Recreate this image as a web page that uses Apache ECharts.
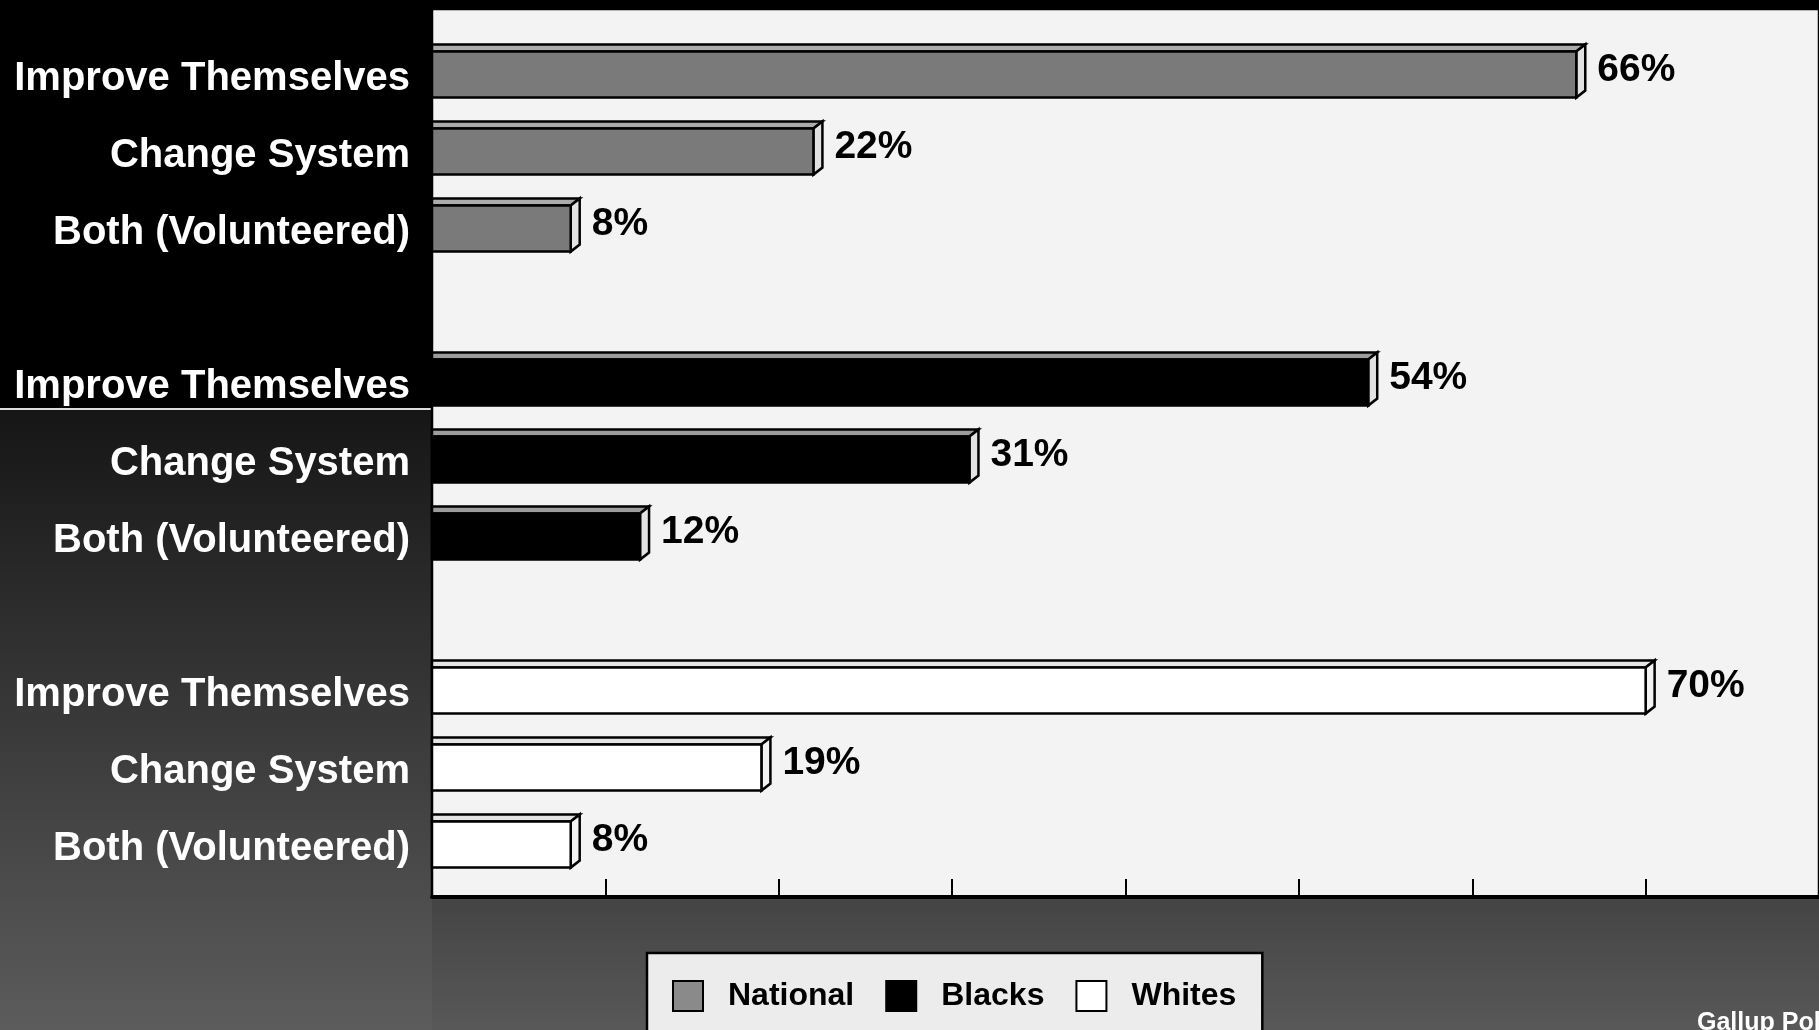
<!DOCTYPE html>
<html>
<head>
<meta charset="utf-8">
<script src="https://cdn.jsdelivr.net/npm/echarts@6/dist/echarts.min.js"></script>
<style>
html,body{margin:0;padding:0;background:#000;}
#chart{width:1819px;height:1030px;}
</style>
</head>
<body>
<div id="chart"></div>
<script>
// ---- data ----
const groups = ['National', 'Blacks', 'Whites'];
const answers = ['Improve Themselves', 'Change System', 'Both (Volunteered)'];
const nationalValues = [66, 22, 8];
const blacksValues = [54, 31, 12];
const whitesValues = [70, 19, 8];
const axisTicks = [0, 10, 20, 30, 40, 50, 60, 70, 80];
const sourceNote = 'Gallup Poll';

// ---- styling ----
const FONT = '"Liberation Sans", Arial, Helvetica, sans-serif';
const groupStyles = {
  National: { face: '#7a7a7a', top: '#ababab', side: '#e2e2e2', legend: '#8a8a8a' },
  Blacks:   { face: '#000000', top: '#9c9c9c', side: '#e2e2e2', legend: '#000000' },
  Whites:   { face: '#ffffff', top: '#e4e4e4', side: '#f2f2f2', legend: '#ffffff' }
};

// categories: answers per group, with an empty slot between groups
const valueSets = [nationalValues, blacksValues, whitesValues];
const categories = [];
groups.forEach((g, gi) => {
  answers.forEach(a => categories.push(a));
  if (gi < groups.length - 1) categories.push('');
});

function renderItem(style) {
  return function (params, api) {
    const v = api.value(0);
    const cat = api.value(1);
    const p0 = api.coord([0, cat]);
    const p1 = api.coord([v, cat]);
    const band = api.size([0, 1])[1];
    const h = band * 0.6;
    const dx = 9, dy = 7;
    const cy = p0[1] + 2;
    const x0 = p0[0], x1 = p1[0];
    const yT = cy - h / 2, yB = cy + h / 2;
    const stroke = { stroke: '#000', lineWidth: 2.5, lineJoin: 'miter' };
    return {
      type: 'group',
      children: [
        { type: 'polygon', shape: { points: [[x0, yT], [x0, yT - dy], [x1 + dx, yT - dy], [x1, yT]] },
          style: Object.assign({ fill: style.top }, stroke) },
        { type: 'polygon', shape: { points: [[x1, yT], [x1 + dx, yT - dy], [x1 + dx, yB - dy], [x1, yB]] },
          style: Object.assign({ fill: style.side }, stroke) },
        { type: 'rect', shape: { x: x0, y: yT, width: x1 - x0, height: h },
          style: Object.assign({ fill: style.face }, stroke) },
        { type: 'text', x: x1 + dx + 12, y: p0[1] - 2,
          style: { text: v + '%', fill: '#000', font: 'bold 39px ' + FONT, verticalAlign: 'middle', align: 'left' } }
      ]
    };
  };
}

const series = groups.map((g, gi) => ({
  name: g,
  type: 'custom',
  coordinateSystem: 'cartesian2d',
  xAxisIndex: 1,
  yAxisIndex: 1,
  encode: { x: 0, y: 1 },
  renderItem: renderItem(groupStyles[g]),
  data: valueSets[gi].map((v, i) => [v, gi * 4 + i]),
  z: 5
}));

const chart = echarts.init(document.getElementById('chart'), null, { renderer: 'canvas' });
chart.setOption({
  backgroundColor: '#000',
  animation: false,
  graphic: [
    { type: 'rect', z: -10, shape: { x: 0, y: 410, width: 432, height: 620 },
      style: { fill: new echarts.graphic.LinearGradient(0, 0, 0, 1, [
        { offset: 0, color: '#161616' }, { offset: 1, color: '#5c5c5c' }]) } },
    { type: 'rect', z: -10, shape: { x: 432, y: 897, width: 1387, height: 133 },
      style: { fill: new echarts.graphic.LinearGradient(0, 0, 0, 1, [
        { offset: 0, color: '#444444' }, { offset: 1, color: '#585858' }]) } },
    { type: 'line', z: -9, shape: { x1: 0, y1: 409, x2: 432, y2: 409 },
      style: { stroke: '#dcdcdc', lineWidth: 2 } },
    { type: 'text', z: 10, left: 1697, top: 1011,
      style: { text: sourceNote, fill: '#fff', font: 'bold 25px ' + FONT } }
  ],
  grid: [
    { left: 432, top: 9, right: -3, bottom: 133, show: true, backgroundColor: '#f3f3f3',
      borderColor: '#000', borderWidth: 2.5, z: 0 },
    { left: 432, top: 34, right: -3, bottom: 149, show: false }
  ],
  legend: {
    data: groups.map(g => ({
      name: g, icon: 'rect',
      itemStyle: { color: groupStyles[g].legend, borderColor: '#000', borderWidth: 2 }
    })),
    left: 647, top: 953,
    orient: 'horizontal',
    padding: [27, 26, 60, 25],
    itemWidth: 30, itemHeight: 30, itemGap: 31,
    backgroundColor: '#ececec', borderColor: '#000', borderWidth: 2.5,
    selectedMode: false,
    textStyle: { color: '#000', fontSize: 32, fontWeight: 'bold', fontFamily: FONT,
      lineHeight: 32, padding: [0, 0, 0, 20] }
  },
  xAxis: [
    { gridIndex: 0, type: 'value', min: axisTicks[0], max: axisTicks[axisTicks.length - 1],
      interval: axisTicks[1] - axisTicks[0],
      axisLine: { show: true, lineStyle: { color: '#000', width: 4 } },
      axisTick: { show: true, inside: true, length: 18, lineStyle: { color: '#000', width: 2 } },
      axisLabel: { show: false }, splitLine: { show: false } },
    { gridIndex: 1, type: 'value', min: axisTicks[0], max: axisTicks[axisTicks.length - 1],
      show: false, splitLine: { show: false } }
  ],
  yAxis: [
    { gridIndex: 0, type: 'value', show: false, splitLine: { show: false } },
    { gridIndex: 1, type: 'category', inverse: true, data: categories,
      axisLine: { show: false }, axisTick: { show: false }, splitLine: { show: false },
      axisLabel: {
        margin: 22,
        formatter: v => (v ? '{a|' + v + '}' : ''),
        rich: { a: { color: '#fff', fontSize: 40, fontWeight: 'bold', fontFamily: FONT,
          lineHeight: 46, padding: [12, 0, 0, 0] } }
      } }
  ],
  series: series
});
</script>
</body>
</html>
